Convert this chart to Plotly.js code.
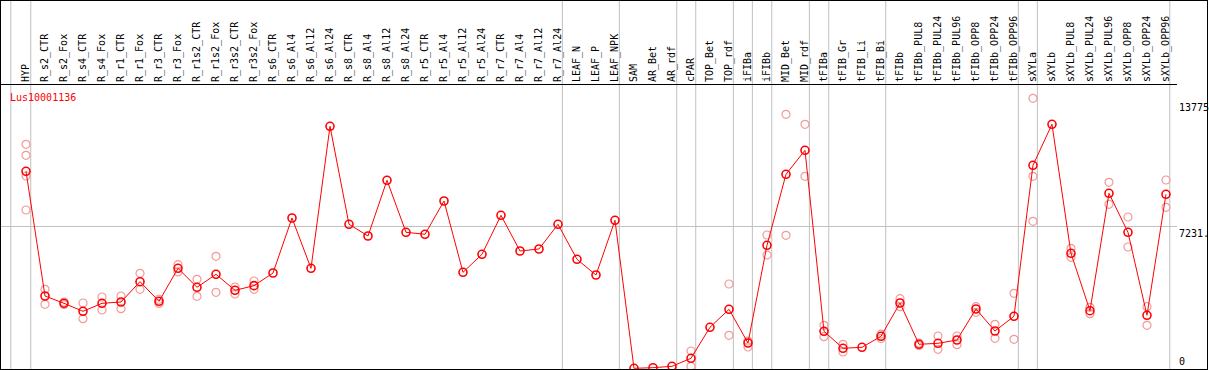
<!DOCTYPE html>
<html>
<head>
<meta charset="utf-8">
<script src="https://cdn.plot.ly/plotly-3.0.1.min.js"></script>
<style>
html,body{margin:0;padding:0;background:#fff;}
#wrap{position:relative;width:1209px;height:370px;}
#chart{position:absolute;left:0;top:0;width:1209px;height:370px;}
#frame{position:absolute;left:0;top:0;width:1208px;height:370px;box-sizing:border-box;border:1px solid #000;pointer-events:none;}
</style>
</head>
<body>
<div id="wrap"><div id="chart"></div><div id="frame"></div></div>
<script>
// ---- data ----
const categories = ["HYP","R_s2_CTR","R_s2_Fox","R_s4_CTR","R_s4_Fox","R_r1_CTR","R_r1_Fox","R_r3_CTR","R_r3_Fox",
  "R_r1s2_CTR","R_r1s2_Fox","R_r3s2_CTR","R_r3s2_Fox","R_s6_CTR","R_s6_Al4","R_s6_Al12","R_s6_Al24",
  "R_s8_CTR","R_s8_Al4","R_s8_Al12","R_s8_Al24","R_r5_CTR","R_r5_Al4","R_r5_Al12","R_r5_Al24",
  "R_r7_CTR","R_r7_Al4","R_r7_Al12","R_r7_Al24","LEAF_N","LEAF_P","LEAF_NPK","SAM","AR_Bet","AR_rdf",
  "cPAR","TOP_Bet","TOP_rdf","iFIBa","iFIBb","MID_Bet","MID_rdf","tFIBa","tFIB_Gr","tFIB_Li","tFIB_Bi",
  "tFIBb","tFIBb_PUL8","tFIBb_PUL24","tFIBb_PUL96","tFIBb_OPP8","tFIBb_OPP24","tFIBb_OPP96",
  "sXYLa","sXYLb","sXYLb_PUL8","sXYLb_PUL24","sXYLb_PUL96","sXYLb_OPP8","sXYLb_OPP24","sXYLb_OPP96"];

const meanValues = [10053,3696,3323,2916,3323,3390,4425,3425,5107,
  4139,4802,3986,4223,4869,7672,5107,12347,
  7351,6755,9594,6943,6841,8539,4904,5822,
  7810,5990,6092,7351,5567,4766,7555,10,41,112,
  520,2100,3018,1300,6281,9900,11123,1896,1030,1081,1641,
  3339,1234,1285,1453,3033,1912,2661,
  10359,12449,5873,2947,8931,6943,2712,8880];

const repCategories = ["HYP","HYP","HYP","HYP","R_s2_CTR","R_s2_CTR","R_s2_Fox","R_s2_Fox",
  "R_s4_CTR","R_s4_CTR","R_s4_Fox","R_s4_Fox","R_r1_CTR","R_r1_CTR","R_r1_Fox","R_r1_Fox",
  "R_r3_CTR","R_r3_CTR","R_r3_Fox","R_r3_Fox","R_r1s2_CTR","R_r1s2_CTR","R_r1s2_Fox","R_r1s2_Fox",
  "R_r3s2_CTR","R_r3s2_CTR","R_r3s2_Fox","R_r3s2_Fox",
  "cPAR","cPAR","TOP_rdf","TOP_rdf","iFIBa","iFIBa","iFIBb","iFIBb","MID_Bet","MID_Bet",
  "MID_rdf","MID_rdf","tFIBa","tFIBa","tFIB_Gr","tFIB_Gr","tFIB_Bi","tFIB_Bi","tFIBb","tFIBb",
  "tFIBb_PUL8","tFIBb_PUL8","tFIBb_PUL24","tFIBb_PUL24","tFIBb_PUL96","tFIBb_PUL96",
  "tFIBb_OPP8","tFIBb_OPP8","tFIBb_OPP24","tFIBb_OPP24","tFIBb_OPP96","tFIBb_OPP96",
  "sXYLa","sXYLa","sXYLa","sXYLb_PUL8","sXYLb_PUL8","sXYLb_PUL24","sXYLb_PUL24",
  "sXYLb_PUL96","sXYLb_PUL96","sXYLb_OPP8","sXYLb_OPP8","sXYLb_OPP24","sXYLb_OPP24",
  "sXYLb_OPP96","sXYLb_OPP96"];
const repValues = [11429,10868,9813,8080,4037,3273,3390,3260,
  3339,2540,3645,2982,3696,3050,4853,4037,
  3530,3320,5293,4921,4547,3680,5720,3884,
  4155,3798,4461,4037,
  892,112,4308,1692,1096,1400,6806,5786,12959,6790,
  12449,9798,2202,1621,1234,841,1750,1530,3558,3150,
  1300,1170,1657,979,1657,1213,
  3150,2865,2253,1540,3834,1489,
  13775,9798,7504,6128,5669,3120,2794,
  9492,8371,7723,6194,3150,2202,
  9609,8218];

// group separators (category index + offset)
const separatorPositions = [-0.8,0.25,28.23,31.23,34.25,35.25,37.23,38.23,39.25,41.23,42.25,45.25,52.23,53.23,60.2];
const yTickValues = [0,7231,13775];
const yTickLabels = ["0","7231.","13775"];
const geneName = "Lus10001136";

const mono = "DejaVu Sans Mono, monospace";

const traces = [
  {type:"scatter", mode:"markers", x:repCategories, y:repValues, hoverinfo:"x+y",
   marker:{symbol:"circle-open", size:8, color:"#f29a9a", line:{width:1.2, color:"#f29a9a"}}, showlegend:false},
  {type:"scatter", mode:"lines+markers", x:categories, y:meanValues, name:geneName,
   line:{color:"#ff0000", width:1},
   marker:{symbol:"circle-open", size:8, color:"#ff0000", line:{width:1.6, color:"#ff0000"}}, showlegend:false}
];

const shapes = separatorPositions.map(p => ({
  type:"line", xref:"x", yref:"paper", x0:p, x1:p, y0:0, y1:1.3,
  line:{color:"#c0c0c0", width:1}, layer:"below"
}));

const annotations = [
  {xref:"paper", yref:"paper", x:0, y:1, xanchor:"left", yanchor:"top", xshift:7, yshift:-5,
   text:geneName, showarrow:false, font:{family:mono, size:10, color:"#ff0000"}},
  {xref:"paper", yref:"y", x:1, y:yTickValues[2], xanchor:"left", yanchor:"top", yshift:-2,
   text:yTickLabels[2], showarrow:false, font:{family:mono, size:10, color:"#000"}},
  {xref:"paper", yref:"y", x:1, y:yTickValues[1], xanchor:"left", yanchor:"top", yshift:1,
   text:yTickLabels[1], showarrow:false, font:{family:mono, size:10, color:"#000"}},
  {xref:"paper", yref:"y", x:1, y:yTickValues[0], xanchor:"left", yanchor:"bottom", yshift:0,
   text:yTickLabels[0], showarrow:false, font:{family:mono, size:10, color:"#000"}}
];

const layout = {
  width:1209, height:370,
  margin:{l:1, r:32, t:85, b:1, pad:0},
  paper_bgcolor:"#fff", plot_bgcolor:"#fff",
  showlegend:false,
  xaxis:{type:"category", categoryorder:"array", categoryarray:categories,
    range:[-1.316, 60.58], side:"top", tickangle:-90, ticks:"", showgrid:false,
    showline:true, linecolor:"#000", linewidth:1, zeroline:false,
    tickfont:{family:mono, size:10, color:"#000"}, fixedrange:true},
  yaxis:{range:[-25, 14452], tickvals:[yTickValues[1]], showticklabels:false, ticks:"",
    showgrid:true, gridcolor:"#c0c0c0", gridwidth:1, zeroline:false, showline:false, fixedrange:true},
  shapes:shapes,
  annotations:annotations
};

Plotly.newPlot("chart", traces, layout, {displayModeBar:false, staticPlot:true});
</script>
</body>
</html>
